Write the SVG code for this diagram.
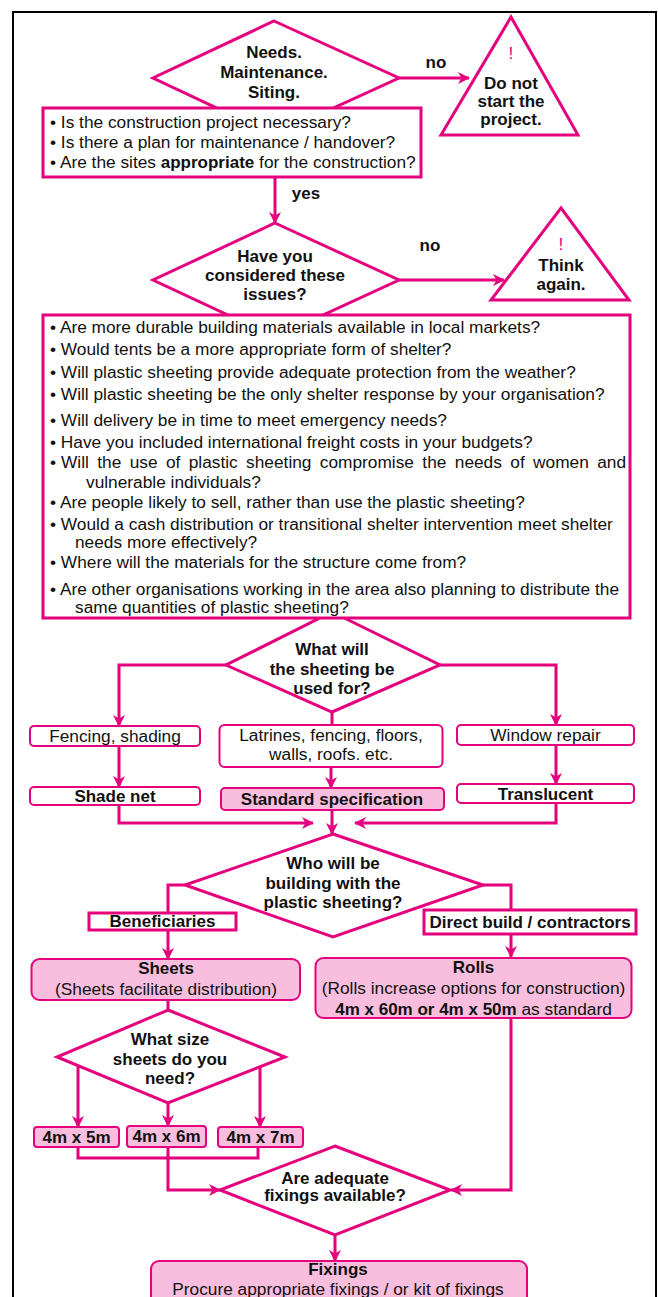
<svg xmlns="http://www.w3.org/2000/svg" width="658" height="1297" viewBox="0 0 658 1297">
<defs>
<style>
.s{fill:none;stroke:#E5007D;stroke-width:3;stroke-linejoin:miter}
.w{fill:#fff;stroke:#E5007D;stroke-width:3}
.wt{fill:#fff;stroke:#E5007D;stroke-width:2}
.p{fill:#F9BEDD;stroke:#E5007D;stroke-width:2}
.c{fill:none;stroke:#E5007D;stroke-width:3}
text{font-family:"Liberation Sans",Arial,sans-serif;font-size:17.3px;fill:#111}
.b{font-weight:bold;font-size:17px}
.m{text-anchor:middle}
.ex{fill:#E5007D}
</style>
<marker id="ah" viewBox="0 0 12 12" refX="11" refY="6" markerWidth="12" markerHeight="12" markerUnits="userSpaceOnUse" orient="auto">
<path d="M0,0 L12,6 L0,12 L3.5,6 Z" fill="#E5007D"/>
</marker>
</defs>
<rect x="0" y="0" width="658" height="1297" fill="#fff"/>
<rect x="13" y="12" width="643" height="1310" fill="none" stroke="#000" stroke-width="2"/>

<g id="connectors">
<line class="c" x1="399" y1="78" x2="469" y2="78" marker-end="url(#ah)"/>
<line class="c" x1="275" y1="177" x2="275" y2="223" stroke-width="4" marker-end="url(#ah)"/>
<line class="c" x1="399" y1="280" x2="504" y2="280" marker-end="url(#ah)"/>
<path class="c" d="M227,665 H119 V726" marker-end="url(#ah)"/>
<path class="c" d="M440,665 H556 V725" marker-end="url(#ah)"/>
<path class="c" d="M332,712 V725"/>
<path class="c" d="M119,746 V787" marker-end="url(#ah)"/>
<path class="c" d="M331,767 V788" marker-end="url(#ah)"/>
<path class="c" d="M556,745 V784" marker-end="url(#ah)"/>
<path class="c" d="M119,805 V823 H313" marker-end="url(#ah)"/>
<path class="c" d="M556,803 V823 H355" marker-end="url(#ah)"/>
<path class="c" d="M332,810 V834" marker-end="url(#ah)"/>
<path class="c" d="M185,885 H168 V913"/>
<path class="c" d="M483,885 H511 V910"/>
<path class="c" d="M168,930 V959" marker-end="url(#ah)"/>
<path class="c" d="M511,934 V957" marker-end="url(#ah)"/>
<path class="c" d="M168,1000 V1010"/>
<path class="c" d="M78,1066 V1127" marker-end="url(#ah)"/>
<path class="c" d="M168,1103 V1126" marker-end="url(#ah)"/>
<path class="c" d="M260,1067 V1127" marker-end="url(#ah)"/>
<path class="c" d="M78,1147 V1158 H258 V1147"/>
<path class="c" d="M168,1147 V1190 H220" marker-end="url(#ah)"/>
<path class="c" d="M511,1018 V1190 H451" marker-end="url(#ah)"/>
<path class="c" d="M335,1235 V1261" marker-end="url(#ah)"/>
</g>

<g id="q-needs">
<polygon class="w" points="274,21 399,78 274,135 153,78"/>
<text class="b m" x="274" y="58">Needs.</text>
<text class="b m" x="274" y="78">Maintenance.</text>
<text class="b m" x="274" y="98">Siting.</text>
</g>
<text id="lbl-no1" class="b m" x="436" y="68">no</text>

<g id="t-donot">
<polygon class="w" points="511,17 578,135 441,135"/>
<text class="m ex" x="511" y="59">!</text>
<text class="b m" x="511" y="89">Do not</text>
<text class="b m" x="511" y="107">start the</text>
<text class="b m" x="511" y="125">project.</text>
</g>

<g id="box-needs">
<rect class="w" x="43" y="108" width="378" height="69"/>
<text x="50" y="128">• Is the construction project necessary?</text>
<text x="50" y="148">• Is there a plan for maintenance / handover?</text>
<text x="50" y="168">• Are the sites <tspan class="b">appropriate</tspan> for the construction?</text>
</g>
<text id="lbl-yes" class="b m" x="306" y="199">yes</text>

<g id="q-considered">
<polygon class="w" points="275,223 399,280 275,337 153,280"/>
<text class="b m" x="275" y="262">Have you</text>
<text class="b m" x="275" y="281">considered these</text>
<text class="b m" x="275" y="300">issues?</text>
</g>
<text id="lbl-no2" class="b m" x="430" y="251">no</text>

<g id="t-think">
<polygon class="w" points="561,208 629,300 491,300"/>
<text class="m ex" x="561" y="250">!</text>
<text class="b m" x="561" y="271">Think</text>
<text class="b m" x="561" y="290">again.</text>
</g>

<g id="q-usedfor">
<polygon class="w" points="332,612 440,665 332,712 226,665"/>
<text class="b m" x="332" y="655">What will</text>
<text class="b m" x="332" y="675">the sheeting be</text>
<text class="b m" x="332" y="694">used for?</text>
</g>

<g id="box-issues">
<rect class="w" x="43" y="315" width="587" height="303"/>
<text x="50" y="333">• Are more durable building materials available in local markets?</text>
<text x="50" y="355">• Would tents be a more appropriate form of shelter?</text>
<text x="50" y="378">• Will plastic sheeting provide adequate protection from the weather?</text>
<text x="50" y="400">• Will plastic sheeting be the only shelter response by your organisation?</text>
<text x="50" y="426">• Will delivery be in time to meet emergency needs?</text>
<text x="50" y="448">• Have you included international freight costs in your budgets?</text>
<text x="50" y="468">•</text>
<text x="61" y="468" word-spacing="3.6">Will the use of plastic sheeting compromise the needs of women and</text>
<text x="86" y="488">vulnerable individuals?</text>
<text x="50" y="508">• Are people likely to sell, rather than use the plastic sheeting?</text>
<text x="50" y="530">• Would a cash distribution or transitional shelter intervention meet shelter</text>
<text x="75" y="548">needs more effectively?</text>
<text x="50" y="568">• Where will the materials for the structure come from?</text>
<text x="50" y="595">• Are other organisations working in the area also planning to distribute the</text>
<text x="75" y="613">same quantities of plastic sheeting?</text>
</g>

<g id="n-fencing">
<rect class="wt" x="30" y="726" width="170" height="20" rx="4"/>
<text class="m" x="115" y="742">Fencing, shading</text>
</g>
<g id="n-latrines">
<rect class="wt" x="219.5" y="725" width="223" height="42" rx="5"/>
<text class="m" x="331" y="741">Latrines, fencing, floors,</text>
<text class="m" x="331" y="760">walls, roofs. etc.</text>
</g>
<g id="n-window">
<rect class="wt" x="457" y="725" width="177" height="20" rx="4"/>
<text class="m" x="545.5" y="741">Window repair</text>
</g>
<g id="n-shadenet">
<rect class="wt" x="30" y="787" width="170" height="18" rx="4"/>
<text class="b m" x="115" y="802">Shade net</text>
</g>
<g id="n-standard">
<rect class="p" x="221" y="788" width="223" height="22" rx="4"/>
<text class="b m" x="332" y="805">Standard specification</text>
</g>
<g id="n-translucent">
<rect class="wt" x="457" y="784" width="177" height="19" rx="4"/>
<text class="b m" x="545.5" y="800">Translucent</text>
</g>

<g id="q-who">
<polygon class="w" points="333,834 483,885 333,937 185,885"/>
<text class="b m" x="333" y="869">Who will be</text>
<text class="b m" x="333" y="889">building with the</text>
<text class="b m" x="333" y="908">plastic sheeting?</text>
</g>

<g id="n-beneficiaries">
<rect class="w" x="89" y="913" width="147" height="17"/>
<text class="b m" x="162.5" y="927">Beneficiaries</text>
</g>
<g id="n-direct">
<rect class="w" x="424" y="910" width="212" height="24"/>
<text class="b m" x="530" y="928">Direct build / contractors</text>
</g>

<g id="n-sheets">
<rect class="p" x="31.5" y="959" width="268.5" height="41" rx="8"/>
<text class="b m" x="166" y="974">Sheets</text>
<text class="m" x="166" y="995">(Sheets facilitate distribution)</text>
</g>
<g id="n-rolls">
<rect class="p" x="315.5" y="958" width="316" height="60" rx="8"/>
<text class="b m" x="473.5" y="973">Rolls</text>
<text class="m" x="473.5" y="994">(Rolls increase options for construction)</text>
<text class="m" x="473.5" y="1015"><tspan class="b">4m x 60m or 4m x 50m</tspan> as standard</text>
</g>

<g id="q-size">
<polygon class="w" points="168,1010 285,1057 168,1103 57,1057"/>
<text class="b m" x="170" y="1045">What size</text>
<text class="b m" x="170" y="1065">sheets do you</text>
<text class="b m" x="170" y="1084">need?</text>
</g>

<g id="n-4x5">
<rect class="p" x="34" y="1127" width="85" height="20" rx="3"/>
<text class="b m" x="76.5" y="1143">4m x 5m</text>
</g>
<g id="n-4x6">
<rect class="p" x="127" y="1126" width="79" height="21" rx="3"/>
<text class="b m" x="166.5" y="1142">4m x 6m</text>
</g>
<g id="n-4x7">
<rect class="p" x="218" y="1127" width="85" height="20" rx="3"/>
<text class="b m" x="260.5" y="1143">4m x 7m</text>
</g>

<g id="q-fixings">
<polygon class="w" points="335,1146 450,1190 335,1235 220,1190"/>
<text class="b m" x="335" y="1184">Are adequate</text>
<text class="b m" x="335" y="1201">fixings available?</text>
</g>

<g id="n-fixings">
<rect class="p" x="151" y="1261" width="376" height="60" rx="8"/>
<text class="b m" x="338" y="1275">Fixings</text>
<text class="m" x="338" y="1294.5">Procure appropriate fixings / or kit of fixings</text>
</g>
</svg>
